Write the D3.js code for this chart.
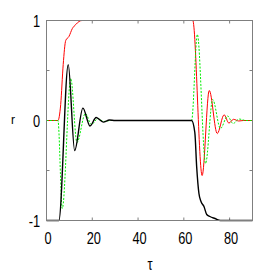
<!DOCTYPE html>
<html>
<head>
<meta charset="utf-8">
<script src="https://cdn.jsdelivr.net/npm/d3@7"></script>
<style>
  body { margin: 0; background: #fff; }
  text { font-family: "Liberation Sans", Arial, sans-serif; fill: #000; }
</style>
</head>
<body>
<div id="chart"></div>
<script>
// values
const redTau   = [0, 5.0, 6.2, 7.3, 8.4, 9.8, 11.3, 12.8, 14.2, 15.5, 63.9, 68.0, 71.1, 74.6, 77.6, 79.7, 81.7, 84.0, 86.0, 90];
const redR     = [0, 0, 0.16, 0.56, 0.80, 0.84, 0.92, 0.96, 0.99, 1, 1, -0.55, 0.30, -0.13, 0.057, -0.026, 0.012, -0.005, 0, 0];

const greenTau = [0, 5.0, 6.9, 10.6, 13.3, 17.0, 19.6, 22.5, 25.0, 28.0, 63.4, 65.9, 69.5, 72.6, 76.0, 79.1, 81.5, 84.2, 87.0, 90];
const greenR   = [0, 0, -0.88, 0.42, -0.22, 0.07, -0.04, 0.02, -0.01, 0, 0, 0.86, -0.43, 0.21, -0.08, 0.045, -0.03, 0.015, 0, 0];

const blackTau = [0, 5.4, 9.5, 12.3, 15.9, 19.0, 21.7, 24.8, 27.5, 30.0, 63.4, 64.8, 65.6, 66.6, 67.5, 68.8, 70.0, 71.4, 73.6, 76.0, 90];
const blackR   = [-1, -1, 0.557, -0.30, 0.124, -0.055, 0.03, -0.016, 0.005, 0, 0, -0.12, -0.46, -0.73, -0.81, -0.86, -0.94, -0.96, -0.98, -1, -1];

const xTicks = [0, 20, 40, 60, 80];
const yTicks = [-1, 0, 1];
const yMinor = [-0.5, 0.5];

const W = 273, H = 273;
const x = d3.scaleLinear().domain([0, 90]).range([46.5, 252.5]);
const y = d3.scaleLinear().domain([-1, 1]).range([220.5, 20.5]);

const svg = d3.select("#chart").append("svg")
    .attr("width", W)
    .attr("height", H);

const frame = "#7f7f7f";

// ticks, inward on all four sides
const tk = 3;
xTicks.forEach(t => {
    svg.append("line").attr("x1", x(t)).attr("x2", x(t)).attr("y1", y(-1)).attr("y2", y(-1) - tk).attr("stroke", frame);
    svg.append("line").attr("x1", x(t)).attr("x2", x(t)).attr("y1", y(1)).attr("y2", y(1) + tk).attr("stroke", frame);
});
yTicks.concat(yMinor).forEach(t => {
    svg.append("line").attr("x1", x(0)).attr("x2", x(0) + tk).attr("y1", y(t)).attr("y2", y(t)).attr("stroke", frame);
    svg.append("line").attr("x1", x(90)).attr("x2", x(90) - tk).attr("y1", y(t)).attr("y2", y(t)).attr("stroke", frame);
});

const line = d3.line().curve(d3.curveMonotoneX);
const pts = (ts, rs) => ts.map((t, i) => [x(t), y(rs[i])]);

svg.append("path")
    .attr("d", line(pts(redTau, redR)))
    .attr("fill", "none")
    .attr("stroke", "#ff0000")
    .attr("stroke-width", 1);

svg.append("path")
    .attr("d", line(pts(greenTau, greenR)))
    .attr("fill", "none")
    .attr("stroke", "#00ee00")
    .attr("stroke-width", 1)
    .attr("stroke-dasharray", "2,1.5");

svg.append("path")
    .attr("d", line(pts(blackTau, blackR)))
    .attr("fill", "none")
    .attr("stroke", "#000")
    .attr("stroke-width", 1.4);

// frame
svg.append("rect")
    .attr("x", x(0)).attr("y", y(1))
    .attr("width", x(90) - x(0)).attr("height", y(-1) - y(1))
    .attr("fill", "none")
    .attr("stroke", frame);

// tick labels (narrow digits)
xTicks.forEach(t => {
    svg.append("text")
        .attr("transform", `translate(${x(t) + 1.5},243.5) scale(0.8,1)`)
        .attr("text-anchor", "middle")
        .style("font-size", "16px")
        .text(t);
});
yTicks.forEach(t => {
    svg.append("text")
        .attr("transform", `translate(40,${y(t) + 6}) scale(0.8,1)`)
        .attr("text-anchor", "end")
        .style("font-size", "16px")
        .text(t);
});

svg.append("text")
    .attr("transform", "translate(13,123.5)")
    .attr("text-anchor", "middle")
    .style("font-size", "12px")
    .text("r");

svg.append("text")
    .attr("transform", "translate(150,270) scale(0.8,1)")
    .attr("text-anchor", "middle")
    .style("font-size", "16px")
    .text("τ");
</script>
</body>
</html>
